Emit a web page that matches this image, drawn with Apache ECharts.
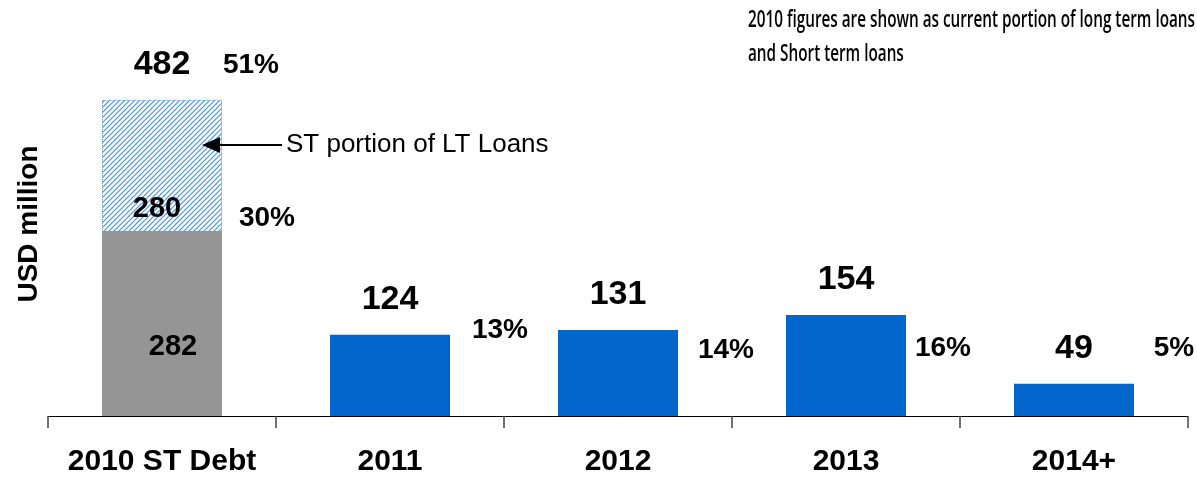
<!DOCTYPE html>
<html>
<head>
<meta charset="utf-8">
<script src="https://cdn.jsdelivr.net/npm/echarts@6/dist/echarts.min.js"></script>
<style>
  html, body { margin: 0; padding: 0; background: #fff; }
  #chart { width: 1197px; height: 478px; }
</style>
</head>
<body>
<div id="chart"></div>
<script>
// Debt maturity profile, USD million
const categories = ['2010 ST Debt', '2011', '2012', '2013', '2014+'];
const stDebtTotal = [482, '-', '-', '-', '-'];      // 2010 short-term debt, total
const shortTermLoans = [282, '-', '-', '-', '-'];   // 2010 short-term loans
const maturities = ['-', 124, 131, 154, 49];        // scheduled repayments
const ltPortionCat = [0];
const ltPortionValue = [280];                       // ST portion of LT loans
const shareCats = [0, 0, 1, 2, 3, 4];
const sharePct = [51, 30, 13, 14, 16, 5];           // share of total debt, %

// placement of the free-standing labels, px from [category centre, baseline]
const shareOffsets = [[89, -351], [105, -198], [110, -86], [108, -66], [97, -68], [100, -68]];
const ltPortionOffsets = [[-5, -207]];

const FONT = '"Liberation Sans", Arial, sans-serif';

// diagonal blue hatch for the ST portion of LT loans
function hatchPattern() {
  const c = document.createElement('canvas');
  c.width = 5; c.height = 5;
  const g = c.getContext('2d');
  g.fillStyle = '#ffffff';
  g.fillRect(0, 0, 5, 5);
  g.strokeStyle = '#4a92de';
  g.lineWidth = 1.2;
  g.beginPath();
  g.moveTo(-1, 6); g.lineTo(6, -1);
  g.moveTo(-1, 1); g.lineTo(1, -1);
  g.moveTo(4, 6); g.lineTo(6, 4);
  g.stroke();
  return c;
}

// horizontal squeeze so the note fits its narrow face
function squeezeFor(text, font, width) {
  const c = document.createElement('canvas').getContext('2d');
  c.font = font;
  return width / c.measureText(text).width;
}
const noteFont = '600 23px "Open Sans", "Liberation Sans", sans-serif';
const noteLine1 = '2010 figures are shown as current portion of long term loans';
const noteLine2 = 'and Short term loans';
const noteScale = squeezeFor(noteLine1, noteFont, 447);

const chart = echarts.init(document.getElementById('chart'));

chart.setOption({
  animation: false,
  backgroundColor: '#ffffff',
  grid: { left: 48, right: 9, top: 88, bottom: 62 },
  xAxis: {
    type: 'category',
    data: categories,
    boundaryGap: true,
    axisLine: { lineStyle: { color: '#000', width: 1 } },
    axisTick: { show: true, interval: 0, length: 12, lineStyle: { color: '#444', width: 1.5 } },
    axisLabel: {
      interval: 0,
      margin: 31,
      color: '#000',
      fontFamily: FONT,
      fontWeight: 'bold',
      fontSize: 30
    }
  },
  yAxis: {
    type: 'value',
    min: 0,
    max: 500,
    show: false,
    splitLine: { show: false }
  },
  series: [
    {
      name: 'ST portion of LT Loans',
      type: 'bar',
      data: stDebtTotal,
      barWidth: 120,
      barGap: '-100%',
      itemStyle: {
        color: { image: hatchPattern(), repeat: 'repeat' },
        borderColor: '#4a92de',
        borderWidth: 1,
        borderType: 'dotted'
      },
      label: {
        show: true,
        position: 'top',
        distance: 18,
        formatter: '{c}',
        color: '#000',
        fontFamily: FONT,
        fontWeight: 'bold',
        fontSize: 34
      }
    },
    {
      name: 'Short term loans',
      type: 'bar',
      data: shortTermLoans,
      barWidth: 120,
      barGap: '-100%',
      itemStyle: { color: '#959595' },
      label: {
        show: true,
        position: 'inside',
        offset: [11, 23],
        formatter: '{c}',
        color: '#000',
        fontFamily: FONT,
        fontWeight: 'bold',
        fontSize: 29
      }
    },
    {
      name: 'Maturities',
      type: 'bar',
      data: maturities,
      barWidth: 120,
      barGap: '-100%',
      itemStyle: { color: '#0366cc' },
      label: {
        show: true,
        position: 'top',
        distance: 18,
        formatter: '{c}',
        color: '#000',
        fontFamily: FONT,
        fontWeight: 'bold',
        fontSize: 34
      }
    },
    {
      name: 'LT portion value',
      type: 'custom',
      data: ltPortionCat.map((c, i) => [c, ltPortionValue[i]]),
      z: 5,
      renderItem: function (params, api) {
        const base = api.coord([api.value(0), 0]);
        const off = ltPortionOffsets[params.dataIndex];
        return {
          type: 'text',
          x: base[0] + off[0],
          y: base[1] + off[1],
          style: {
            text: String(api.value(1)),
            fill: '#000',
            font: 'bold 29px ' + FONT,
            align: 'center',
            verticalAlign: 'middle'
          }
        };
      }
    },
    {
      name: 'Share of total',
      type: 'custom',
      data: shareCats.map((c, i) => [c, sharePct[i]]),
      z: 5,
      renderItem: function (params, api) {
        const base = api.coord([api.value(0), 0]);
        const off = shareOffsets[params.dataIndex];
        return {
          type: 'text',
          x: base[0] + off[0],
          y: base[1] + off[1],
          style: {
            text: api.value(1) + '%',
            fill: '#000',
            font: 'bold 28px ' + FONT,
            align: 'center',
            verticalAlign: 'middle'
          }
        };
      }
    }
  ],
  graphic: [
    {
      type: 'text',
      x: 29,
      y: 224,
      rotation: Math.PI / 2,
      style: {
        text: 'USD million',
        fill: '#000',
        font: 'bold 28px ' + FONT,
        align: 'center',
        verticalAlign: 'middle'
      }
    },
    {
      type: 'text',
      x: 748,
      y: 20,
      scaleX: noteScale,
      style: {
        text: noteLine1,
        fill: '#000',
        font: noteFont,
        align: 'left',
        verticalAlign: 'middle'
      }
    },
    {
      type: 'text',
      x: 748,
      y: 54,
      scaleX: noteScale,
      style: {
        text: noteLine2,
        fill: '#000',
        font: noteFont,
        align: 'left',
        verticalAlign: 'middle'
      }
    },
    {
      type: 'line',
      shape: { x1: 282, y1: 145, x2: 215, y2: 145 },
      style: { stroke: '#000', lineWidth: 2 },
      z: 10
    },
    {
      type: 'polygon',
      shape: { points: [[202, 145], [220, 137], [220, 153]] },
      style: { fill: '#000' },
      z: 10
    },
    {
      type: 'text',
      x: 286,
      y: 145,
      style: {
        text: 'ST portion of LT Loans',
        fill: '#000',
        font: '26px ' + FONT,
        align: 'left',
        verticalAlign: 'middle'
      },
      z: 10
    }
  ]
});
</script>
</body>
</html>
